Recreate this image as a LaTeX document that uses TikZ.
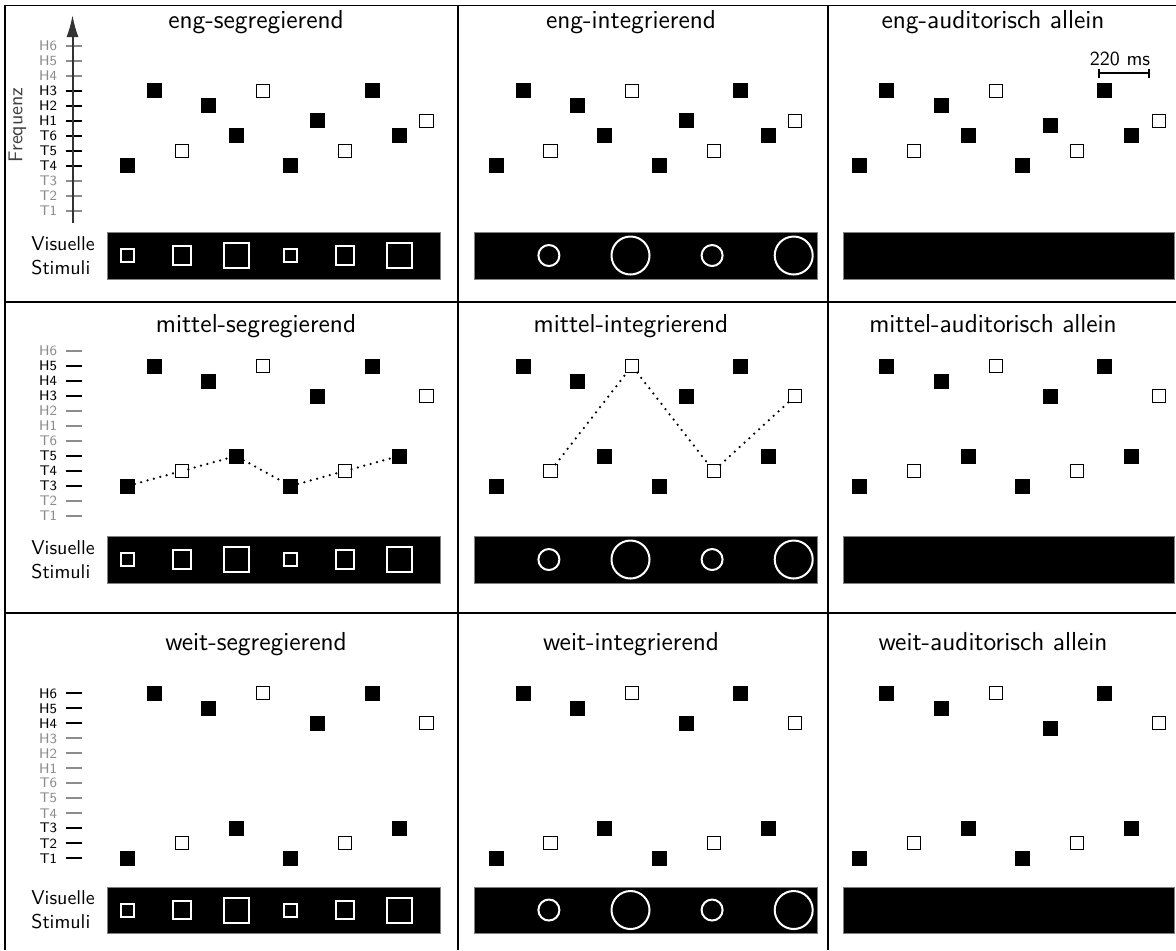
\documentclass[tikz,border=0pt]{standalone}
\usetikzlibrary{arrows.meta}

\definecolor{tickgray}{gray}{0.55}
\definecolor{axisgray}{gray}{0.2}

\tikzset{
  grid line/.style={line width=0.75pt, black},
  tone/.style={rectangle, inner sep=0pt, outer sep=0pt, minimum size=7.5pt, fill=black},
  tonehollow/.style={rectangle, inner sep=0pt, outer sep=0pt, minimum size=6.6pt,
                     fill=white, draw=black, line width=0.5pt},
  title/.style={font=\sffamily\fontsize{13}{15}\selectfont, inner sep=0pt, anchor=base},
  ticklab/.style={font=\sffamily\scriptsize, anchor=east, inner sep=0pt},
  tickmark/.style={line width=1pt},
  stimbox/.style={fill=black, draw=black!50, line width=0.4pt},
  vsq/.style={rectangle, draw=white, line width=1pt, inner sep=0pt, outer sep=0pt},
  vci/.style={circle, draw=white, line width=1pt, inner sep=0pt, outer sep=0pt},
  stream/.style={line width=1.25pt, dash pattern=on 0pt off 3.3pt, line cap=round},
  lbl/.style={font=\sffamily, inner sep=0pt},
  axis/.style={line width=1pt, axisgray},
}

% one tone: #1 = 1 for the hollow (third) tone, #2 = name, #3 = position
\newcommand\tonenode[3]{%
  \ifnum#1=1 \node[tonehollow] (#2) at (#3) {};%
  \else \node[tone] (#2) at (#3) {};\fi}

% one row of three panels
% #1 row id, #2 y of T1, #3 box top, #4 box bottom, #5 title baseline,
% #6 lowest active low tone, #7 lowest active high tone, #8 title word, #9 pitch list
\newcommand\panelrow[9]{%
  % frequency ticks and labels
  \foreach \lab [count=\i from 0] in {T1,T2,T3,T4,T5,T6,H1,H2,H3,H4,H5,H6} {
    \pgfmathtruncatemacro\act{((\i>=#6)&&(\i<=#6+2))||((\i>=#7)&&(\i<=#7+2))}
    \ifnum\act=1 \def\tc{black}\else\def\tc{tickgray}\fi
    \draw[tickmark, \tc] (65.5,{#2-15*\i}) -- (81.5,{#2-15*\i});
    \node[ticklab, text=\tc] (lab#1\lab) at (57.5,{#2-15*\i}) {\lab};
  }
  % titles
  \node[title] (title#1a) at (256,#5) {#8-segregierend};
  \node[title] (title#1b) at (631,#5) {#8-integrierend};
  \node[title] (title#1c) at (993,#5) {#8-auditorisch allein};
  % tone sequences
  \foreach \p [count=\s from 0] in {#9} {
    \pgfmathtruncatemacro\w{mod(\s,3)==2}
    \pgfmathsetmacro\dy{(\s==7)*\audshift}
    \tonenode{\w}{t#1a\s}{{127.3+27.2*\s},{#2-15*\p}}
    \tonenode{\w}{t#1b\s}{{496+27.2*\s},{#2-15*\p}}
    \tonenode{\w}{t#1c\s}{{859.6+27.2*\s},{#2-15*\p+\dy}}
  }
  % visual stimuli
  \node[lbl, anchor=west, align=left] (vs#1) at (31,{(#3+#4)/2}) {Visuelle\\Stimuli};
  \path[stimbox] (107,#3) rectangle (440,#4);
  \path[stimbox] (474,#3) rectangle (817,#4);
  \path[stimbox] (843,#3) rectangle (1174,#4);
  \foreach \s/\sz in {0/6.5pt,2/9.2pt,4/12.5pt,6/6.5pt,8/9.2pt,10/12.5pt}
    \node[vsq, minimum size=\sz] (vq#1\s) at ({127.3+27.2*\s},{(#3+#4)/2}) {};
  \foreach \s/\sz in {2/10.5pt,5/19pt,8/10.5pt,11/19pt}
    \node[vci, minimum size=\sz] (vc#1\s) at ({494.5+27.2*\s},{(#3+#4)/2}) {};
}

\begin{document}
\begin{tikzpicture}[x=0.5pt, y=-0.5pt]
\useasboundingbox (0,0) rectangle (1176,950);

% panel grid
\draw[grid line] (5,950) -- (5,5.5) -- (1176,5.5);
\draw[grid line] (458,5.5) -- (458,950);
\draw[grid line] (828,5.5) -- (828,950);
\draw[grid line] (5,302) -- (1176,302);
\draw[grid line] (5,613) -- (1176,613);

% rows
\def\audshift{5}
\panelrow{1}{210.7}{232}{279}{28}{3}{6}{eng}{3,8,4,7,5,8,3,6,4,8,5,6}
\def\audshift{0}
\panelrow{2}{516}{536}{583}{332}{2}{8}{mittel}{2,10,3,9,4,10,2,8,3,10,4,8}
\def\audshift{5}
\panelrow{3}{858.3}{887}{933}{650}{0}{9}{weit}{0,11,1,10,2,11,0,9,1,11,2,9}

% frequency axis of the first panel
\coordinate (axbot) at (72.5,223);
\coordinate (axtop) at (72.5,15);
\draw[axis, -{Latex[length=11pt,width=6pt]}] (axbot) -- (axtop);
\node[lbl, rotate=90, text=black!75] (freq) at (17.5,125) {Frequenz};

% time scale bar
\coordinate (sbL) at (1098,73);
\coordinate (sbR) at (1150,73);
\draw[line width=1pt, {Bar[width=4.5pt]}-{Bar[width=4.5pt]}] (sbL) -- (sbR);
\node[lbl] (sbtext) at (1120,59) {220 ms};

% perceived streams
\draw[stream] (t2a0) -- (t2a2) -- (t2a4) -- (t2a6) -- (t2a8) -- (t2a10);
\draw[stream] (t2b2) -- (t2b5) -- (t2b8) -- (t2b11);
\end{tikzpicture}
\end{document}
